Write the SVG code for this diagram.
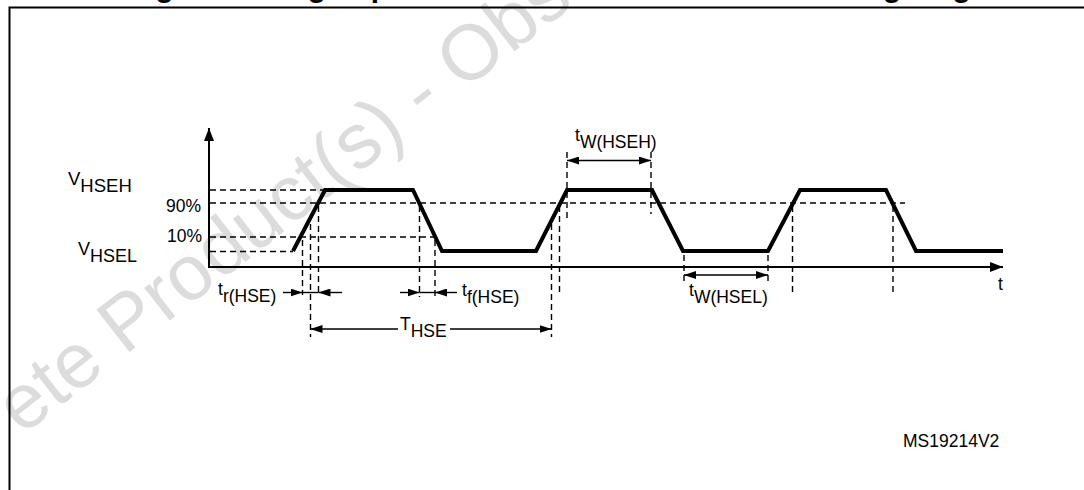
<svg xmlns="http://www.w3.org/2000/svg" width="1084" height="490" viewBox="0 0 1084 490">
<style>
.lb{font-family:"Liberation Sans",Arial,sans-serif;font-size:17.5px;fill:#000}
.ttl{font-family:"Liberation Sans",Arial,sans-serif;font-size:29.8px;font-weight:bold;fill:#000}
.wm{font-family:"Liberation Sans",Arial,sans-serif;font-size:78px;fill:#dcdcdc}
.ax{stroke:#000;stroke-width:2;fill:none}
.wave{stroke:#000;stroke-width:4;fill:none;stroke-linejoin:miter}
.dh{stroke:#000;stroke-width:1.4;stroke-dasharray:6 4;fill:none}
.dv{stroke:#000;stroke-width:1.4;stroke-dasharray:6 4;fill:none}
.dim{stroke:#000;stroke-width:1.4;fill:none}
.dd{stroke:#000;stroke-width:1.4;fill:none;marker-start:url(#ah);marker-end:url(#ah)}
.de{stroke:#000;stroke-width:1.4;fill:none;marker-end:url(#ah)}
</style>
<defs>
<marker id="ah" viewBox="0 0 12 8" refX="12" refY="4" markerWidth="12" markerHeight="8" markerUnits="userSpaceOnUse" orient="auto-start-reverse">
<path d="M0,0 L12,4 L0,8 z" fill="#000"/>
</marker>
<marker id="axh" viewBox="0 0 13 10" refX="13" refY="5" markerWidth="13" markerHeight="10" markerUnits="userSpaceOnUse" orient="auto">
<path d="M0,0 L13,5 L0,10 z" fill="#000"/>
</marker>
</defs>
<rect width="1084" height="490" fill="#fff"/>
<g id="watermark">
<text class="wm" transform="translate(22,436) rotate(-38)">ete Product(s) - Obs</text>
</g>
<g id="title">
<text class="ttl" x="129" y="-3">Figure 19. High-speed external clock source AC timing diagram</text>
</g>
<rect id="frame" x="9.5" y="7.5" width="1090" height="500" fill="none" stroke="#000" stroke-width="2"/>
<g id="axes">
<line class="ax" x1="209" y1="267" x2="209" y2="128" marker-end="url(#axh)"/>
<line class="ax" x1="208" y1="267" x2="1003" y2="267" marker-end="url(#axh)"/>
</g>
<g id="levels">
<line class="dh" x1="210" y1="190" x2="325" y2="190"/>
<line class="dh" x1="210" y1="203" x2="905" y2="203"/>
<line class="dh" x1="210" y1="237" x2="438" y2="237"/>
<line class="dh" x1="210" y1="251.5" x2="293" y2="251.5"/>
</g>
<g id="guides">
<line class="dv" x1="302.5" y1="240" x2="302.5" y2="295"/>
<line class="dv" x1="310.5" y1="224" x2="310.5" y2="337"/>
<line class="dv" x1="318.5" y1="206" x2="318.5" y2="295"/>
<line class="dv" x1="419.5" y1="206" x2="419.5" y2="297"/>
<line class="dv" x1="435" y1="240" x2="435" y2="297"/>
<line class="dv" x1="551.5" y1="224" x2="551.5" y2="337"/>
<line class="dv" x1="559.5" y1="206" x2="559.5" y2="293"/>
<line class="dv" x1="567" y1="152" x2="567" y2="218"/>
<line class="dv" x1="651" y1="152" x2="651" y2="214"/>
<line class="dv" x1="684" y1="255" x2="684" y2="282"/>
<line class="dv" x1="768" y1="255" x2="768" y2="282"/>
<line class="dv" x1="792.5" y1="206" x2="792.5" y2="293"/>
<line class="dv" x1="893" y1="206" x2="893" y2="293"/>
</g>
<g id="waveform">
<polyline class="wave" points="293,251 325,190 413,190 442,251 536,251 567,190 652,190 683,251 768,251 800,190 886,190 916,251 1003,251"/>
</g>
<g id="connectors">
<line class="de" x1="283" y1="292.5" x2="302.5" y2="292.5"/>
<line class="dim" x1="302.5" y1="292.5" x2="318.5" y2="292.5"/>
<line class="de" x1="342" y1="292.5" x2="318.5" y2="292.5"/>
<line class="de" x1="400" y1="292.5" x2="419.5" y2="292.5"/>
<line class="dim" x1="419.5" y1="292.5" x2="435" y2="292.5"/>
<line class="de" x1="457" y1="292.5" x2="435" y2="292.5"/>
<line class="de" x1="398" y1="329" x2="310.5" y2="329"/>
<line class="de" x1="450" y1="329" x2="551.5" y2="329"/>
<line class="dd" x1="567" y1="160.5" x2="651" y2="160.5"/>
<line class="dd" x1="684" y1="275" x2="768" y2="275"/>
</g>
<g id="labels">
<text class="lb" x="68" y="185" style="font-size:18.5px">V<tspan dy="7">HSEH</tspan></text>
<text class="lb" x="78" y="255" style="font-size:18px">V<tspan dy="7">HSEL</tspan></text>
<text class="lb" x="166" y="212">90%</text>
<text class="lb" x="167" y="242">10%</text>
<text class="lb" x="218" y="295">t<tspan dy="7">r(HSE)</tspan></text>
<text class="lb" x="462" y="296">t<tspan dy="7">f(HSE)</tspan></text>
<text class="lb" x="400" y="330">T<tspan dy="7">HSE</tspan></text>
<text class="lb" x="575" y="141">t<tspan dy="7">W(HSEH)</tspan></text>
<text class="lb" x="689" y="296">t<tspan dy="7">W(HSEL)</tspan></text>
<text class="lb" x="998" y="290">t</text>
<text class="lb" x="903" y="447">MS19214V2</text>
</g>
</svg>
